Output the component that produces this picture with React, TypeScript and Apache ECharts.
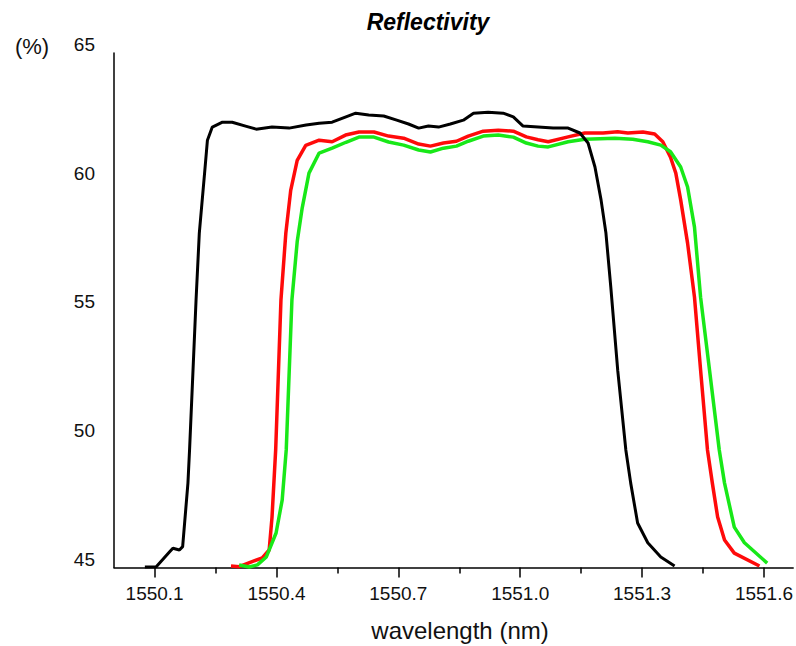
import React, { useEffect, useRef } from 'react';
import * as echarts from 'echarts';

const blackX = [1550.076, 1550.104, 1550.137, 1550.145, 1550.161, 1550.169, 1550.182, 1550.186, 1550.202, 1550.210, 1550.223, 1550.230, 1550.242, 1550.267, 1550.291, 1550.326, 1550.350, 1550.389, 1550.431, 1550.473, 1550.505, 1550.537, 1550.571, 1550.595, 1550.627, 1550.664, 1550.696, 1550.725, 1550.750, 1550.774, 1550.799, 1550.828, 1550.860, 1550.885, 1550.921, 1550.958, 1550.983, 1551.007, 1551.044, 1551.081, 1551.118, 1551.147, 1551.167, 1551.184, 1551.199, 1551.211, 1551.223, 1551.240, 1551.260, 1551.272, 1551.289, 1551.314, 1551.346, 1551.380];
const blackY = [45.02, 45.03, 45.61, 45.75, 45.68, 45.81, 48.28, 49.57, 55.40, 58.00, 60.33, 61.61, 62.12, 62.31, 62.31, 62.15, 62.04, 62.12, 62.08, 62.20, 62.27, 62.31, 62.52, 62.66, 62.59, 62.55, 62.39, 62.24, 62.08, 62.16, 62.12, 62.24, 62.39, 62.66, 62.70, 62.66, 62.52, 62.16, 62.12, 62.08, 62.08, 61.89, 61.50, 60.57, 59.29, 58.00, 55.90, 52.67, 49.57, 48.28, 46.73, 45.96, 45.41, 45.06];

const redX = [1550.288, 1550.308, 1550.340, 1550.365, 1550.382, 1550.389, 1550.398, 1550.411, 1550.423, 1550.435, 1550.451, 1550.472, 1550.505, 1550.537, 1550.570, 1550.603, 1550.640, 1550.676, 1550.713, 1550.750, 1550.779, 1550.811, 1550.843, 1550.872, 1550.909, 1550.946, 1550.983, 1551.015, 1551.044, 1551.069, 1551.118, 1551.159, 1551.204, 1551.240, 1551.265, 1551.302, 1551.331, 1551.351, 1551.370, 1551.383, 1551.395, 1551.412, 1551.429, 1551.444, 1551.461, 1551.473, 1551.486, 1551.503, 1551.527, 1551.589];
const redY = [45.06, 45.03, 45.23, 45.37, 45.68, 46.96, 49.57, 55.40, 58.00, 59.66, 60.83, 61.41, 61.61, 61.55, 61.81, 61.93, 61.93, 61.77, 61.69, 61.46, 61.38, 61.50, 61.57, 61.77, 61.96, 62.00, 61.96, 61.74, 61.63, 61.55, 61.74, 61.89, 61.89, 61.94, 61.89, 61.93, 61.85, 61.55, 60.95, 60.33, 59.29, 57.61, 55.51, 52.68, 49.57, 48.28, 46.96, 46.07, 45.56, 45.06];

const greenX = [1550.308, 1550.333, 1550.353, 1550.375, 1550.399, 1550.414, 1550.424, 1550.438, 1550.451, 1550.463, 1550.480, 1550.505, 1550.537, 1550.571, 1550.603, 1550.640, 1550.676, 1550.713, 1550.750, 1550.779, 1550.811, 1550.843, 1550.872, 1550.909, 1550.946, 1550.983, 1551.015, 1551.044, 1551.069, 1551.118, 1551.159, 1551.233, 1551.277, 1551.314, 1551.346, 1551.370, 1551.395, 1551.412, 1551.429, 1551.444, 1551.466, 1551.490, 1551.503, 1551.527, 1551.552, 1551.608];
const greenY = [45.10, 45.02, 45.10, 45.41, 46.34, 47.62, 49.57, 55.40, 57.67, 58.95, 60.33, 61.11, 61.30, 61.53, 61.73, 61.73, 61.54, 61.42, 61.23, 61.15, 61.30, 61.38, 61.57, 61.77, 61.81, 61.73, 61.50, 61.38, 61.35, 61.55, 61.65, 61.69, 61.65, 61.55, 61.42, 61.16, 60.57, 59.79, 58.23, 55.51, 52.68, 49.57, 48.28, 46.57, 45.96, 45.17];

const xMajorTicks = [1550.1, 1550.4, 1550.7, 1551.0, 1551.3, 1551.6];
const xMinorTicks = [1550.25, 1550.55, 1550.85, 1551.15, 1551.45];

const FONT = '"Liberation Sans", Arial, sans-serif';

const zip = (xs: number[], ys: number[]) => xs.map((x, i) => [x, ys[i]]);

export default function App() {
  const ref = useRef<HTMLDivElement>(null);
  useEffect(() => {
    const chart = echarts.init(ref.current!, null, { renderer: 'svg' });
    chart.setOption({
      animation: false,
      backgroundColor: '#ffffff',
      textStyle: { fontFamily: FONT },
      grid: { left: 114, top: 53, right: 0, bottom: 78.5, containLabel: false },
      xAxis: [
        {
          type: 'value',
          position: 'bottom',
          min: 1550.0,
          max: 1551.672,
          axisLine: { show: true, onZero: false, lineStyle: { color: '#000', width: 1.5 } },
          axisTick: { show: true, customValues: xMajorTicks, length: 10, lineStyle: { color: '#000', width: 1.5 } },
          axisLabel: {
            customValues: xMajorTicks,
            formatter: (v: number) => v.toFixed(1),
            fontSize: 19,
            color: '#111',
            margin: 16,
            fontFamily: FONT,
          },
          splitLine: { show: false },
        },
        {
          type: 'value',
          position: 'bottom',
          min: 1550.0,
          max: 1551.672,
          axisLine: { show: false },
          axisTick: { show: true, customValues: xMinorTicks, length: 6, lineStyle: { color: '#000', width: 1.5 } },
          axisLabel: { show: false },
          splitLine: { show: false },
        },
      ],
      yAxis: {
        type: 'value',
        min: 45,
        max: 65,
        interval: 5,
        axisLine: { show: true, onZero: false, lineStyle: { color: '#000', width: 1.5 } },
        axisTick: { show: false },
        axisLabel: {
          fontSize: 19,
          color: '#111',
          margin: 19,
          verticalAlign: 'bottom',
          lineHeight: 17,
          fontFamily: FONT,
        },
        splitLine: { show: false },
      },
      series: [
        {
          type: 'line',
          xAxisIndex: 0,
          data: zip(redX, redY),
          showSymbol: false,
          symbol: 'none',
          lineStyle: { color: '#ff0a0a', width: 3.5 },
          z: 2,
        },
        {
          type: 'line',
          xAxisIndex: 0,
          data: zip(greenX, greenY),
          showSymbol: false,
          symbol: 'none',
          lineStyle: { color: '#18e818', width: 3.5 },
          z: 3,
        },
        {
          type: 'line',
          xAxisIndex: 0,
          data: zip(blackX, blackY),
          showSymbol: false,
          symbol: 'none',
          lineStyle: { color: '#000000', width: 3 },
          z: 4,
        },
      ],
      graphic: [
        {
          type: 'text',
          x: 428,
          y: 22,
          style: {
            text: 'Reflectivity',
            font: `italic bold 23px ${FONT}`,
            fill: '#000',
            align: 'center',
            verticalAlign: 'middle',
          },
        },
        {
          type: 'text',
          x: 32,
          y: 46,
          style: {
            text: '(%)',
            font: `22px ${FONT}`,
            fill: '#111',
            align: 'center',
            verticalAlign: 'middle',
          },
        },
        {
          type: 'text',
          x: 460,
          y: 630,
          style: {
            text: 'wavelength (nm)',
            font: `24px ${FONT}`,
            fill: '#111',
            align: 'center',
            verticalAlign: 'middle',
          },
        },
      ],
    });
    return () => chart.dispose();
  }, []);
  return (
    <div
      ref={ref}
      style={{ position: 'fixed', left: 0, top: 0, width: 796, height: 646 }}
    />
  );
}
